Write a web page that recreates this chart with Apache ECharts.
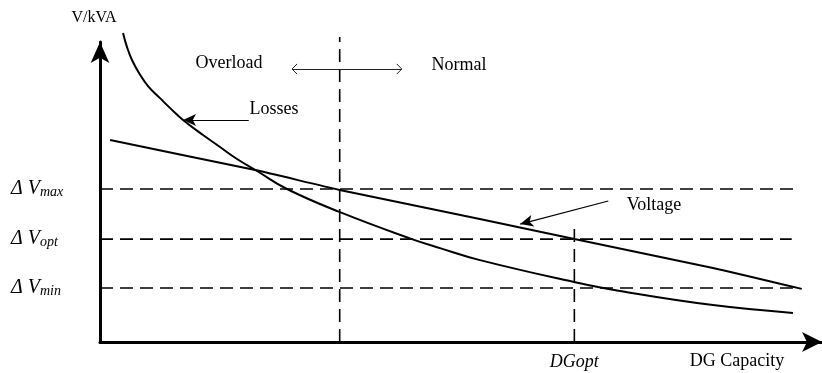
<!DOCTYPE html>
<html>
<head>
<meta charset="utf-8">
<script src="https://cdn.jsdelivr.net/npm/echarts@6/dist/echarts.min.js"></script>
<style>
html,body{margin:0;padding:0;background:#fff;}
#c{width:822px;height:373px;}
</style>
</head>
<body>
<div id="c"></div>
<script>
// ---- data (chart units: capacity 0..100, V/kVA 0..100) ----
var lossesX = [3.19, 3.74, 4.43, 5.40, 6.65, 8.31, 9.83, 11.50, 14.27, 16.62, 18.98, 21.75, 25.90, 33.24, 43.21, 47.09, 52.63, 65.65, 72.02, 84.90, 95.98];
var lossesY = [103.0, 98.3, 94.0, 89.7, 85.3, 81.3, 77.7, 74.0, 69.0, 65.0, 61.0, 57.0, 51.0, 43.3, 34.3, 31.3, 27.3, 20.0, 17.0, 12.3, 9.7];
var voltageX = [1.4, 21.5, 33.2, 52.6, 65.7, 84.9, 97.2];
var voltageY = [67.3, 57.3, 50.7, 41.0, 34.3, 24.7, 17.7];

var levelValues = [51.0, 34.3, 18.0];          // ΔVmax, ΔVopt, ΔVmin
var levelSubs = ['max', 'opt', 'min'];
var levelEnds = [96.3, 95.8, 96.3];

var boundaryX = 33.2;      // overload / normal boundary
var boundaryTop = 101.7;
var dgOptX = 65.7;
var dgOptTop = 40.0;
var xTickLabels = ['DGopt'];

var FONT = "'Liberation Serif','Times New Roman',serif";

function pairs(xs, ys) { return xs.map(function (x, i) { return [x, ys[i]]; }); }

var dashStyle = { color: '#000', width: 1.6, type: [13, 7] };

var series = [];
series.push({
  type: 'line', data: pairs(lossesX, lossesY), smooth: 0.45, showSymbol: false, clip: false,
  lineStyle: { color: '#000', width: 2 }, silent: true, z: 5
});
series.push({
  type: 'line', data: pairs(voltageX, voltageY), smooth: 0.2, showSymbol: false, clip: false,
  lineStyle: { color: '#000', width: 2 }, silent: true, z: 5
});
levelValues.forEach(function (v, i) {
  series.push({
    type: 'line', data: [[0, v], [levelEnds[i], v]], showSymbol: false, silent: true,
    lineStyle: dashStyle, z: 3
  });
});
series.push({
  type: 'line', data: [[boundaryX, 0], [boundaryX, boundaryTop]], showSymbol: false, silent: true, clip: false,
  lineStyle: dashStyle, z: 3
});
series.push({
  type: 'line', data: [[dgOptX, 0], [dgOptX, dgOptTop]], showSymbol: false, silent: true,
  lineStyle: dashStyle, z: 3
});
// annotation arrows
series.push({
  type: 'line', data: [], silent: true,
  markLine: {
    silent: true, animation: false, label: { show: false },
    data: [
      [{ coord: [20.6, 74.0], symbol: 'none', lineStyle: { color: '#000', width: 1.2, type: 'solid' } },
       { coord: [11.5, 74.0], symbol: 'arrow', symbolSize: [9, 13] }],
      [{ coord: [70.4, 47.0], symbol: 'none', lineStyle: { color: '#000', width: 1.2, type: 'solid' } },
       { coord: [58.2, 39.3], symbol: 'arrow', symbolSize: [9, 13] }],
      [{ coord: [26.6, 91.0], symbol: 'none', lineStyle: { color: '#222', width: 1, type: 'solid' } },
       { coord: [41.8, 91.0], symbol: 'none' }],
      [{ coord: [26.6, 91.0], symbol: 'none', lineStyle: { color: '#222', width: 1, type: 'solid' } },
       { coord: [27.3, 92.7], symbol: 'none' }],
      [{ coord: [26.6, 91.0], symbol: 'none', lineStyle: { color: '#222', width: 1, type: 'solid' } },
       { coord: [27.3, 89.3], symbol: 'none' }],
      [{ coord: [41.8, 91.0], symbol: 'none', lineStyle: { color: '#222', width: 1, type: 'solid' } },
       { coord: [41.1, 92.7], symbol: 'none' }],
      [{ coord: [41.8, 91.0], symbol: 'none', lineStyle: { color: '#222', width: 1, type: 'solid' } },
       { coord: [41.1, 89.3], symbol: 'none' }]
    ]
  }
});

function txt(text, x, y, size, italic) {
  return {
    type: 'text', x: x, y: y, silent: true,
    style: { text: text, fill: '#000', font: (italic ? 'italic ' : '') + size + 'px ' + FONT,
      textAlign: 'center', textVerticalAlign: 'middle' }
  };
}

var chart = echarts.init(document.getElementById('c'), null, { renderer: 'canvas' });
chart.setOption({
  animation: false,
  backgroundColor: '#fff',
  grid: { left: 100, right: 0, top: 42, bottom: 31, containLabel: false, outerBoundsMode: 'none' },
  xAxis: {
    type: 'value', min: 0, max: 100,
    splitLine: { show: false },
    axisTick: { show: false },
    axisLine: { show: true, onZero: false, symbol: ['none', 'arrow'], symbolSize: [15, 20],
      lineStyle: { color: '#000', width: 3 } },
    axisLabel: {
      customValues: [dgOptX], margin: 11,
      formatter: function () { return xTickLabels[0]; },
      fontFamily: FONT, fontStyle: 'italic', fontSize: 18, color: '#000'
    }
  },
  yAxis: {
    type: 'value', min: 0, max: 100,
    splitLine: { show: false },
    axisTick: { show: false },
    axisLine: { show: true, onZero: false, symbol: ['none', 'arrow'], symbolSize: [14, 21],
      lineStyle: { color: '#000', width: 3 } },
    axisLabel: {
      customValues: levelValues, margin: 89, align: 'left',
      formatter: function (v) {
        var i = levelValues.indexOf(v);
        return '{d|Δ V}{s|' + (i >= 0 ? levelSubs[i] : '') + '}';
      },
      rich: {
        d: { fontFamily: FONT, fontStyle: 'italic', fontSize: 20, color: '#000', verticalAlign: 'bottom' },
        s: { fontFamily: FONT, fontStyle: 'italic', fontSize: 14, color: '#000', verticalAlign: 'bottom' }
      }
    }
  },
  graphic: [
    txt('V/kVA', 94, 18, 16, false),
    txt('Overload', 229, 63, 18, false),
    txt('Normal', 459, 65, 18, false),
    txt('Losses', 274, 109, 18, false),
    txt('Voltage', 654, 205, 18, false),
    txt('DG Capacity', 737, 361, 18, false)
  ],
  series: series
});
</script>
</body>
</html>
